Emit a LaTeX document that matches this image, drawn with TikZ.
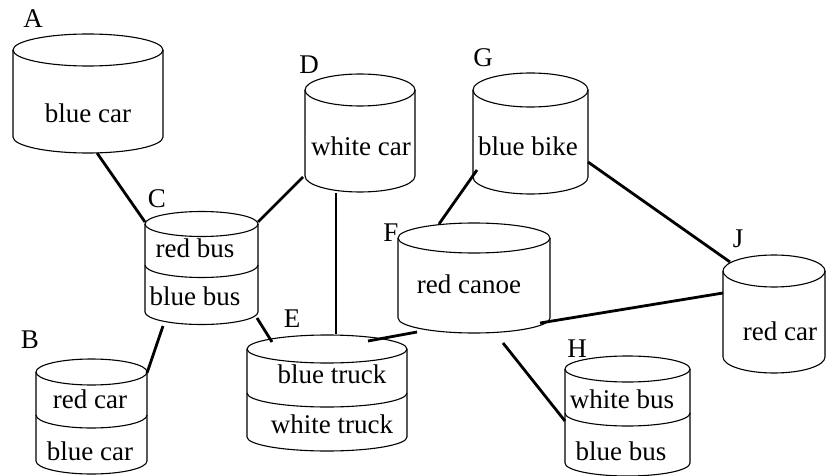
\documentclass[tikz,border=0pt]{standalone}
\usepackage{fontspec}
\setmainfont{Liberation Serif}
\tikzset{
  cylline/.style={line width=1.1pt, draw=black},
  link/.style={line width=2.8pt, draw=black},
  tag/.style={font=\fontsize{27}{30}\selectfont, inner sep=0pt, anchor=base},
  item/.style={font=\fontsize{27}{30}\selectfont, inner sep=0pt, anchor=base},
}
% database cylinder: left x, right x, top ellipse y, bottom arc y, vertical radius
\newcommand\dbcyl[5]{%
  \pgfmathsetmacro\cylcx{(#1+#2)/2}%
  \pgfmathsetmacro\cylrx{(#2-#1)/2}%
  \draw[cylline] (\cylcx,-#3) ellipse [x radius=\cylrx, y radius=#5];
  \draw[cylline] (#1,-#3) -- (#1,-#4)
     arc[start angle=180, end angle=360, x radius=\cylrx, y radius=#5] -- (#2,-#3);
}
% separating arc inside a cylinder: left x, right x, y, vertical radius
\newcommand\dbsplit[4]{%
  \pgfmathsetmacro\cylrx{(#2-#1)/2}%
  \draw[cylline] (#1,-#3) arc[start angle=180, end angle=360, x radius=\cylrx, y radius=#4];
}
\begin{document}
\begin{tikzpicture}[x=1pt, y=1pt]
\useasboundingbox (0,0) rectangle (827,-476);
\fill[white] (0,0) rectangle (827,-476);

% cylinders
\dbcyl{13}{163}{50}{137}{16}
\dbcyl{36}{147}{372}{461}{13}
\dbsplit{36}{147}{415}{13}
\dbcyl{145}{258}{224}{312}{12.5}
\dbsplit{145}{258}{265}{12.5}
\dbcyl{305}{415}{90}{176}{16}
\dbcyl{247}{407}{349}{437}{14}
\dbsplit{247}{407}{393}{14}
\dbcyl{398}{550}{238}{318}{15}
\dbcyl{473}{588}{90}{177}{17}
\dbcyl{565}{690}{369}{463}{13}
\dbsplit{565}{690}{413}{13}
\dbcyl{723}{825}{271}{357}{16}

% letters
\node[tag] (lA) at (33,-28) {A};
\node[tag] (lB) at (30,-348) {B};
\node[tag] (lC) at (157,-207) {C};
\node[tag] (lD) at (309,-74) {D};
\node[tag] (lE) at (292,-327) {E};
\node[tag] (lF) at (391,-241) {F};
\node[tag] (lG) at (483,-67) {G};
\node[tag] (lH) at (577,-357) {H};
\node[tag] (lJ) at (738,-247) {J};

% contents
\node[item] (tA) at (88,-123) {blue car};
\node[item] (tB1) at (90,-408) {red car};
\node[item] (tB2) at (90,-460) {blue car};
\node[item] (tC1) at (195,-257) {red bus};
\node[item] (tC2) at (195,-305) {blue bus};
\node[item] (tD) at (361,-155) {white car};
\node[item] (tE1) at (332,-383) {blue truck};
\node[item] (tE2) at (332,-433) {white truck};
\node[item] (tF) at (469,-293) {red canoe};
\node[item] (tG) at (528,-155) {blue bike};
\node[item] (tH1) at (622,-408) {white bus};
\node[item] (tH2) at (621,-460) {blue bus};
\node[item] (tJ) at (780,-340) {red car};

% link ends on the cylinders
\coordinate (A-s) at (97,-153);
\coordinate (C-nw) at (145,-222);
\coordinate (C-ne) at (258,-222);
\coordinate (C-sw) at (163,-326);
\coordinate (C-se) at (257,-318);
\coordinate (B-ne) at (147,-373);
\coordinate (D-sw) at (303,-177);
\coordinate (D-s) at (336,-193);
\coordinate (E-n) at (336,-334);
\coordinate (E-nw) at (272,-342);
\coordinate (E-ne) at (368,-341);
\coordinate (F-sw) at (417,-332);
\coordinate (F-nw) at (439,-224);
\coordinate (F-se) at (540,-323);
\coordinate (F-s) at (503,-343);
\coordinate (G-sw) at (477,-170);
\coordinate (G-se) at (588,-162);
\coordinate (J-nw) at (730,-262);
\coordinate (J-w) at (723,-293);
\coordinate (H-w) at (565,-421);

% links
\draw[link] (A-s) -- (C-nw);
\draw[link] (C-ne) -- (D-sw);
\draw[link] (C-sw) -- (B-ne);
\draw[link] (C-se) -- (E-nw);
\draw[link] (D-s) -- (E-n);
\draw[link] (F-sw) -- (E-ne);
\draw[link] (G-sw) -- (F-nw);
\draw[link] (G-se) -- (J-nw);
\draw[link] (F-se) -- (J-w);
\draw[link] (F-s) -- (H-w);
\end{tikzpicture}
\end{document}
